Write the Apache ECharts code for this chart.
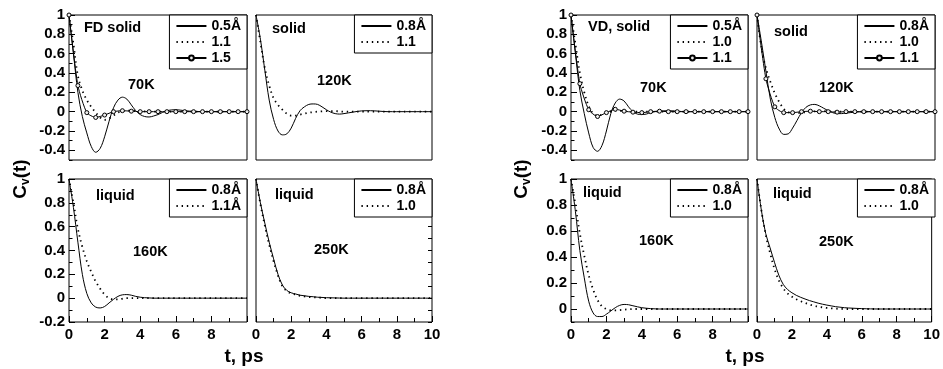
<!DOCTYPE html>
<html><head><meta charset="utf-8">
<script src="https://cdn.jsdelivr.net/npm/echarts@6/dist/echarts.min.js"></script>
<style>html,body{margin:0;padding:0;background:#fff}#c{width:943px;height:369px}</style>
</head><body><div id="c"></div>
<script>
// time grids (ps)
const T  = [0,0.25,0.5,0.75,1,1.25,1.5,1.75,2,2.25,2.5,2.75,3,3.25,3.5,3.75,4,4.25,4.5,4.75,5,5.5,6,6.5,7,7.5,8,9,10];
const TM = [0,0.5,1,1.5,2,2.5,3,3.5,4,4.5,5,5.5,6,6.5,7,7.5,8,8.5,9,9.5,10];

// FD group
const fd70_05  = [1,0.6,0.2,-0.05,-0.22,-0.36,-0.42,-0.38,-0.26,-0.1,0.04,0.12,0.15,0.13,0.07,0.01,-0.03,-0.05,-0.055,-0.045,-0.03,0.01,0.02,0.01,0.003,0,0,0,0];
const fd70_11  = [1,0.7,0.37,0.22,0.12,0.05,-0.01,-0.06,-0.085,-0.07,-0.04,-0.01,0.005,0.01,0.01,0.008,0.005,0.002,0,0,0,0,0,0,0,0,0,0,0];
const fd70_15  = [1,0.27,-0.01,-0.06,-0.035,0,0.01,0.005,0,0,0,0,0,0,0,0,0,0,0,0,0];
const fd120_08 = [1,0.75,0.43,0.12,-0.08,-0.2,-0.24,-0.23,-0.17,-0.07,0.01,0.05,0.075,0.08,0.075,0.05,0.02,-0.005,-0.02,-0.025,-0.02,-0.005,0.008,0.01,0.005,0,0,0,0];
const fd120_11 = [1,0.72,0.45,0.27,0.14,0.07,0.02,-0.02,-0.04,-0.04,-0.03,-0.02,-0.01,-0.005,0,0.003,0.005,0.005,0.005,0.003,0,0,0,0,0,0,0,0,0];
const fd160_08 = [1,0.76,0.47,0.2,0.04,-0.04,-0.075,-0.082,-0.07,-0.04,-0.01,0.015,0.028,0.03,0.025,0.015,0.008,0.004,0.002,0,0,0,0,0,0,0,0,0,0];
const fd160_11 = [1,0.8,0.58,0.43,0.31,0.22,0.14,0.08,0.03,0,-0.01,-0.01,-0.005,0,0,0,0,0,0,0,0,0,0,0,0,0,0,0,0];
const fd250_08 = [1,0.8,0.63,0.47,0.33,0.2,0.11,0.065,0.045,0.035,0.025,0.02,0.015,0.012,0.008,0.006,0.004,0.003,0.002,0.001,0,0,0,0,0,0,0,0,0];
const fd250_10 = [1,0.79,0.61,0.45,0.31,0.19,0.1,0.06,0.04,0.03,0.02,0.015,0.01,0.008,0.005,0.003,0,0,0,0,0,0,0,0,0,0,0,0,0];
// VD group
const vd70_05  = [1,0.6,0.22,-0.02,-0.22,-0.37,-0.41,-0.35,-0.2,-0.02,0.09,0.13,0.11,0.05,0,-0.025,-0.03,-0.025,-0.01,0,0.005,0.01,0.005,0,0,0,0,0,0];
const vd70_10  = [1,0.7,0.4,0.2,0.06,-0.02,-0.04,-0.03,-0.01,0,0.01,0.008,0.005,0.002,0,0,0,0,0,0,0,0,0,0,0,0,0,0,0];
const vd70_11  = [1,0.29,0.02,-0.05,-0.01,0.025,0.005,-0.005,-0.01,0,0.005,0,0,0,0,0,0,0,0,0,0];
const vd120_08 = [1,0.72,0.42,0.13,-0.06,-0.18,-0.235,-0.23,-0.17,-0.09,-0.01,0.045,0.07,0.075,0.06,0.035,0.01,-0.01,-0.02,-0.02,-0.015,-0.005,0,0,0,0,0,0,0];
const vd120_10 = [1,0.66,0.45,0.31,0.19,0.1,0.03,-0.005,-0.015,-0.015,-0.01,-0.005,0,0.003,0.005,0.005,0.004,0.002,0,0,0,0,0,0,0,0,0,0,0];
const vd120_11 = [1,0.34,0.05,-0.01,-0.01,0,0.005,0,0,-0.005,0,0,0,0,0,0,0,0,0,0,0];
const vd160_08 = [1,0.75,0.45,0.24,0.06,-0.03,-0.058,-0.058,-0.04,-0.015,0.01,0.028,0.035,0.033,0.025,0.017,0.01,0.006,0.003,0.001,0,0,0,0,0,0,0,0,0];
const vd160_10 = [1,0.8,0.58,0.41,0.26,0.15,0.07,0.02,0,-0.01,-0.01,-0.008,-0.005,-0.002,0,0,0,0,0,0,0,0,0,0,0,0,0,0,0];
const vd250_08 = [1,0.76,0.58,0.47,0.36,0.26,0.19,0.15,0.125,0.105,0.09,0.077,0.065,0.055,0.045,0.037,0.03,0.024,0.018,0.014,0.01,0.006,0.003,0.001,0,0,0,0,0];
const vd250_10 = [1,0.76,0.57,0.43,0.31,0.22,0.16,0.12,0.095,0.075,0.06,0.047,0.035,0.026,0.018,0.013,0.008,0.005,0.003,0.001,0,0,0,0,0,0,0,0,0];

// tick labels
const yTicksA = [-0.4,-0.2,0,0.2,0.4,0.6,0.8,1];
const yTicksB = [-0.2,0,0.2,0.4,0.6,0.8,1];
const yTicksC = [0,0.2,0.4,0.6,0.8,1];

const pair = (xs, ys) => xs.map((x, i) => [x, ys[i]]);
const FONT = '"Liberation Sans", Arial, Helvetica, sans-serif';
const W = 943;

const panels = [
  {grid:{left:69,top:15,width:178,height:145}, ymin:-0.5, ymax:1, yMajor:yTicksA, yLab:true, xLab:false, show10:false,
   texts:[['FD solid',84,28],['70K',128,85]],
   series:[{n:'0.5Å',d:pair(T,fd70_05),k:'s'},{n:'1.1',d:pair(T,fd70_11),k:'d'},{n:'1.5',d:pair(TM,fd70_15),k:'m'}]},
  {grid:{left:256,top:15,width:176,height:145}, ymin:-0.5, ymax:1, yMajor:yTicksA, yLab:false, xLab:false, show10:true,
   texts:[['solid',272,29],['120K',317,81]],
   series:[{n:'0.8Å',d:pair(T,fd120_08),k:'s'},{n:'1.1',d:pair(T,fd120_11),k:'d'}]},
  {grid:{left:69,top:179,width:178,height:143}, ymin:-0.2, ymax:1, yMajor:yTicksB, yLab:true, xLab:true, show10:false,
   texts:[['liquid',96,196],['160K',133,252]],
   series:[{n:'0.8Å',d:pair(T,fd160_08),k:'s'},{n:'1.1Å',d:pair(T,fd160_11),k:'d'}]},
  {grid:{left:256,top:179,width:176,height:143}, ymin:-0.2, ymax:1, yMajor:yTicksB, yLab:false, xLab:true, show10:true, rightTicks:true,
   texts:[['liquid',275,195],['250K',314,250]],
   series:[{n:'0.8Å',d:pair(T,fd250_08),k:'s'},{n:'1.0',d:pair(T,fd250_10),k:'d'}]},
  {grid:{left:571,top:15,width:177,height:145}, ymin:-0.5, ymax:1, yMajor:yTicksA, yLab:true, xLab:false, show10:false,
   texts:[['VD, solid',588,27],['70K',640,88]],
   series:[{n:'0.5Å',d:pair(T,vd70_05),k:'s'},{n:'1.0',d:pair(T,vd70_10),k:'d'},{n:'1.1',d:pair(TM,vd70_11),k:'m'}]},
  {grid:{left:757,top:15,width:178,height:145}, ymin:-0.5, ymax:1, yMajor:yTicksA, yLab:false, xLab:false, show10:true,
   texts:[['solid',774,32],['120K',819,88]],
   series:[{n:'0.8Å',d:pair(T,vd120_08),k:'s'},{n:'1.0',d:pair(T,vd120_10),k:'d'},{n:'1.1',d:pair(TM,vd120_11),k:'m'}]},
  {grid:{left:571,top:179,width:177,height:143}, ymin:-0.1, ymax:1, yMajor:yTicksC, yLab:true, xLab:true, show10:false,
   texts:[['liquid',583,193],['160K',639,241]],
   series:[{n:'0.8Å',d:pair(T,vd160_08),k:'s'},{n:'1.0',d:pair(T,vd160_10),k:'d'}]},
  {grid:{left:757,top:179,width:178,height:143}, ymin:-0.1, ymax:1, yMajor:yTicksC, yLab:false, xLab:true, show10:true,
   texts:[['liquid',773,194],['250K',819,242]],
   series:[{n:'0.8Å',d:pair(T,vd250_08),k:'s'},{n:'1.0',d:pair(T,vd250_10),k:'d'}]}
];

const grid = [], xAxis = [], yAxis = [], series = [], legend = [], graphic = [];
const labelMap = {};
const tickLine = {color:'#000', width:1};
const fmt = v => String(+(+v).toFixed(1));

panels.forEach((p, i) => {
  grid.push(Object.assign({show:true, borderColor:'#000', borderWidth:1, backgroundColor:'#fff'}, p.grid));
  xAxis.push({type:'value', gridIndex:i, min:0, max:10, interval:2,
    axisLine:{show:false, onZero:false}, splitLine:{show:false},
    axisTick:{show:p.xLab, inside:true, length:6, lineStyle:tickLine},
    minorTick:{show:p.xLab, splitNumber:2, length:4, lineStyle:tickLine},
    axisLabel:{show:p.xLab, margin:5, color:'#000', fontFamily:FONT, fontWeight:'bold', fontSize:15,
      formatter: v => (v === 10 && !p.show10) ? '' : String(v)}});
  const yi = yAxis.length;
  yAxis.push({type:'value', gridIndex:i, min:p.ymin, max:p.ymax, position:'left',
    axisLine:{show:false, onZero:false}, splitLine:{show:false},
    axisTick:{show:p.yLab, inside:true, length:6, lineStyle:tickLine, customValues:p.yMajor},
    axisLabel:{show:p.yLab, margin:4, color:'#000', fontFamily:FONT, fontWeight:'bold', fontSize:15,
      customValues:p.yMajor, formatter:fmt}});
  yAxis.push({type:'value', gridIndex:i, min:p.ymin, max:p.ymax, interval:0.1, position:'left',
    axisLine:{show:false, onZero:false}, splitLine:{show:false}, axisLabel:{show:false},
    axisTick:{show:p.yLab, inside:true, length:3.5, lineStyle:tickLine}});
  if (p.rightTicks) {
    yAxis.push({type:'value', gridIndex:i, min:p.ymin, max:p.ymax, interval:0.1, position:'right',
      axisLine:{show:false, onZero:false}, splitLine:{show:false}, axisLabel:{show:false},
      axisTick:{show:true, inside:true, length:4, lineStyle:tickLine}});
  }
  const names = [];
  p.series.forEach((s, j) => {
    const id = 'p' + i + 's' + j;
    labelMap[id] = s.n;
    const base = {type:'line', name:id, xAxisIndex:i, yAxisIndex:yi, data:s.d, color:'#000',
      smooth:0.35, animation:false, silent:true, z:3};
    if (s.k === 's') {
      Object.assign(base, {symbol:'none', lineStyle:{color:'#000', width:1, type:'solid'}});
      names.push({name:id, itemStyle:{opacity:0}});
    } else if (s.k === 'd') {
      Object.assign(base, {symbol:'none', lineStyle:{color:'#000', width:1.8, type:[1.4,3.8]}});
      names.push({name:id, itemStyle:{opacity:0}});
    } else {
      Object.assign(base, {symbol:'circle', symbolSize:4, showSymbol:true, smooth:0.2,
        itemStyle:{color:'#eee', borderColor:'#000', borderWidth:1},
        lineStyle:{color:'#000', width:1}});
      names.push({name:id});
    }
    series.push(base);
  });
  legend.push({data:names, orient:'vertical', selectedMode:false,
    right: W - (p.grid.left + p.grid.width), top: p.grid.top,
    backgroundColor:'#fff', borderColor:'#000', borderWidth:1, borderRadius:0,
    padding:[4,6,4,6], itemGap:2, itemWidth:30, itemHeight:6,
    formatter: n => labelMap[n],
    textStyle:{color:'#000', fontFamily:FONT, fontWeight:'bold', fontSize:14}});
  p.texts.forEach(t => graphic.push({type:'text', x:t[1], y:t[2], z:10,
    style:{text:t[0], fill:'#000', font:'bold 14.5px ' + FONT, verticalAlign:'middle', align:'left'}}));
});

// axis titles
[[21,179],[522,179]].forEach(c => graphic.push({type:'text', x:c[0], y:c[1], rotation:Math.PI/2, z:10,
  style:{text:'{m|C}{s|v}{m|(t)}', align:'center', verticalAlign:'middle', fill:'#000',
    rich:{m:{fontFamily:FONT, fontWeight:'bold', fontSize:19, fill:'#000'},
          s:{fontFamily:FONT, fontWeight:'bold', fontSize:12, fill:'#000', padding:[9,0,0,0]}}}}));
[[244,357],[745,357]].forEach(c => graphic.push({type:'text', x:c[0], y:c[1], z:10,
  style:{text:'t, ps', fill:'#000', font:'bold 19px ' + FONT, align:'center', verticalAlign:'middle'}}));

const chart = echarts.init(document.getElementById('c'), null, {renderer:'canvas'});
chart.setOption({animation:false, backgroundColor:'#fff', grid, xAxis, yAxis, series, legend, graphic});
</script></body></html>
